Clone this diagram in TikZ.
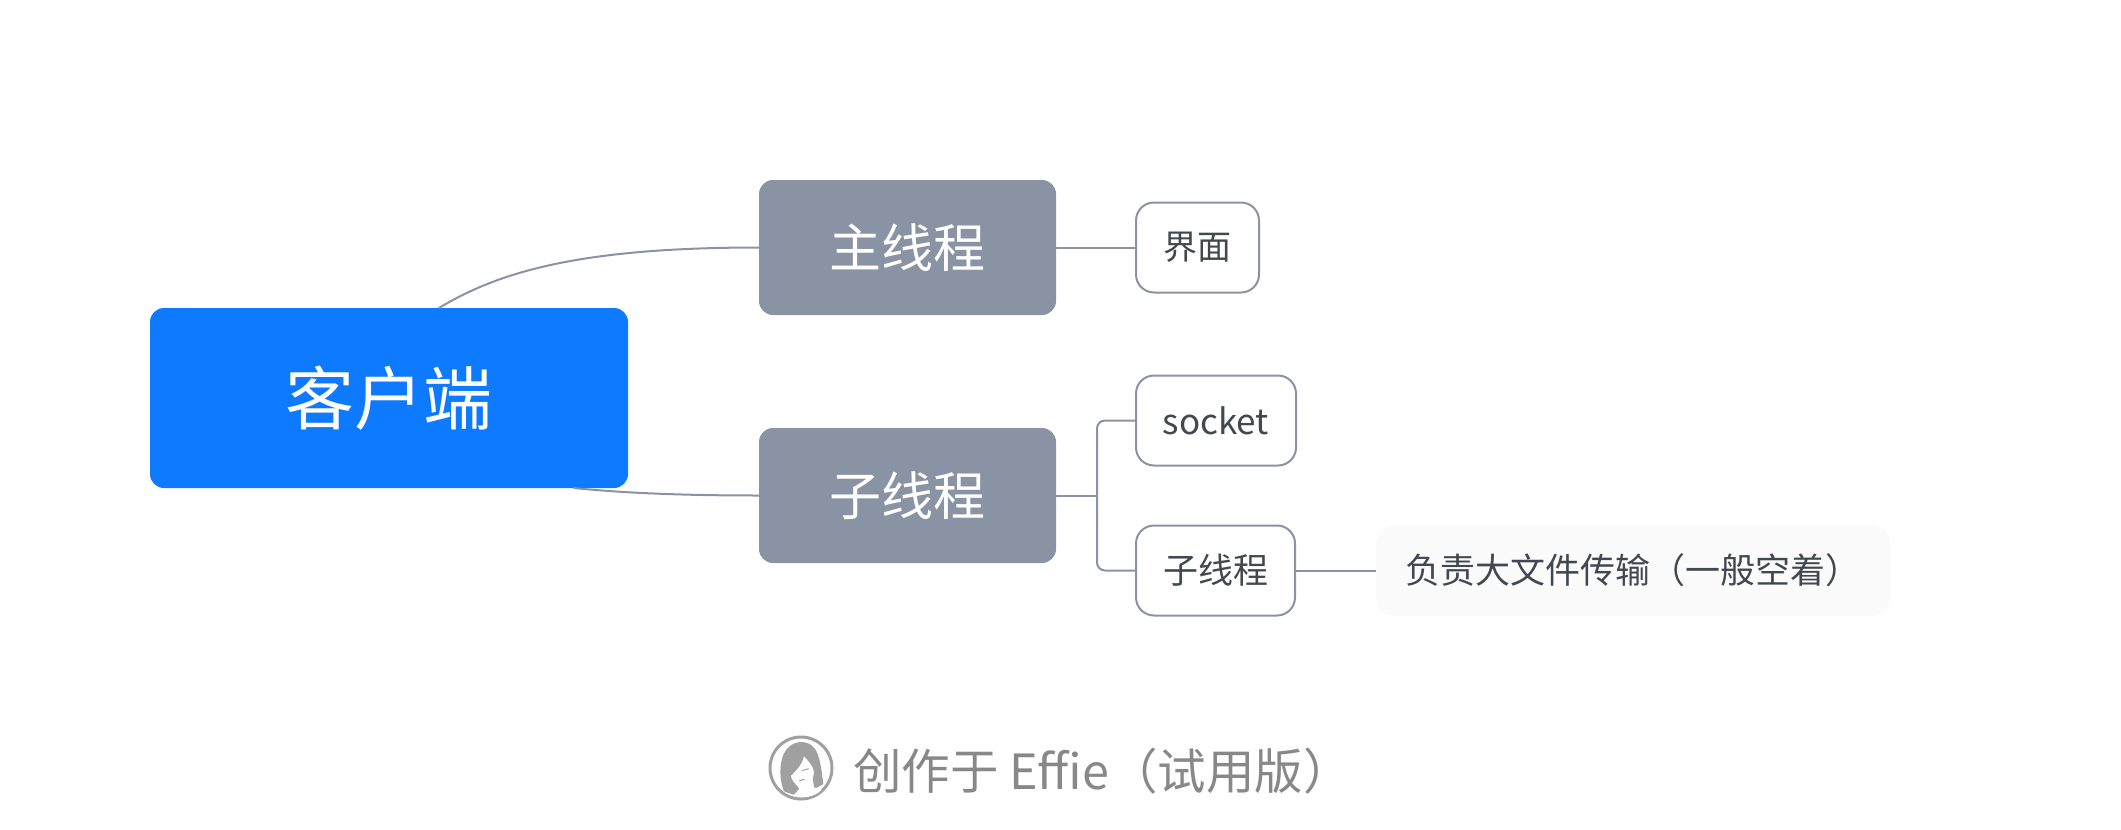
\documentclass[tikz,border=0pt]{standalone}
\usepackage{xcolor}
\usepackage{fontspec}
\setmainfont{Noto Sans CJK SC}
\usetikzlibrary{positioning, calc}
\definecolor{rootblue}{RGB}{14, 122, 255}
\definecolor{branchgray}{RGB}{137, 147, 164}
\definecolor{leafink}{RGB}{66, 72, 80}
\definecolor{notefill}{RGB}{251, 251, 252}
\definecolor{markgray}{RGB}{136, 136, 136}
\definecolor{logogray}{RGB}{160, 160, 160}
\tikzset{
    rootbox/.style={rectangle, rounded corners=14pt, fill=rootblue, text=white, minimum width=478pt, minimum height=180pt, font=\fontsize{69}{73}\selectfont},
    branchbox/.style={rectangle, rounded corners=14pt, fill=branchgray, text=white, minimum width=297pt, minimum height=135pt, font=\fontsize{52}{56}\selectfont},
    leafbox/.style={rectangle, rounded corners=18pt, draw=branchgray, line width=2pt, fill=white, text=leafink, minimum height=90pt, font=\fontsize{35}{39}\selectfont},
    notebox/.style={rectangle, rounded corners=18pt, fill=notefill, text=leafink, minimum width=514pt, minimum height=91pt, font=\fontsize{35}{39}\selectfont},
    link/.style={draw=branchgray, line width=2pt}
}
\begin{document}
\begin{tikzpicture}[x=1pt, y=-1pt, inner sep=0pt, outer sep=0pt]
    \useasboundingbox (0,0) rectangle (2121,830);
    \node (client) [rootbox] at (389,398) {客户端};
    \node (mainthread) [branchbox, right=131pt of client, yshift=150.5pt] {主线程};
    \node (subthread) [branchbox, below=113pt of mainthread] {子线程};
    \node (ui) [leafbox, right=80pt of mainthread, minimum width=123pt, font=\fontsize{34}{38}\selectfont] {界面};
    \node (socket) [leafbox, right=80pt of subthread, yshift=75pt, minimum width=160pt] {socket};
    \node (worker) [leafbox, right=80pt of subthread, yshift=-75pt, minimum width=159pt] {子线程};
    \node (note) [notebox, right=81pt of worker] {负责大文件传输（一般空着）};
    \coordinate (fork) at ($(subthread.east)+(41,0)$);

    \draw [link] (client.61) .. controls +(60,-36) and +(-180,0) .. (mainthread.west);
    \draw [link] (client.-26) .. controls +(60,6) and +(-60,0) .. (subthread.west);
    \draw [link] (mainthread) -- (ui);
    \draw [link] (subthread) -- (fork);
    \draw [link, rounded corners=8pt] (fork) |- (socket.west);
    \draw [link, rounded corners=8pt] (fork) |- (worker.west);
    \draw [link] (worker) -- (note);

    % trial mark
    \node (logo) [circle, draw=logogray, line width=3pt, fill=white, minimum size=62pt] at (801,768) {};
    \begin{scope}[shift={(760,728)}, x=0.3333pt, y=-0.3333pt]
        \fill [logogray] (72,190) .. controls (55,150) and (50,50) .. (120,42) .. controls (175,42) and (180,90) .. (190,168) -- (165,182) -- (100,200) -- cycle;
        \fill [white] (132,85) .. controls (125,115) and (105,130) .. (92,145) .. controls (100,165) and (112,172) .. (118,182) -- (100,203) .. controls (125,212) and (165,208) .. (185,185) -- (162,178) -- (158,150) .. controls (170,125) and (150,105) .. (132,85) -- cycle;
        \draw [logogray, line width=1pt] (126,128) -- (146,122) (118,158) -- (134,154);
    \end{scope}
    \node (mark) [right=21pt of logo, yshift=-3pt, text=markgray, font=\fontsize{48.5}{52}\selectfont] {创作于 Effie（试用版）};
\end{tikzpicture}
\end{document}
